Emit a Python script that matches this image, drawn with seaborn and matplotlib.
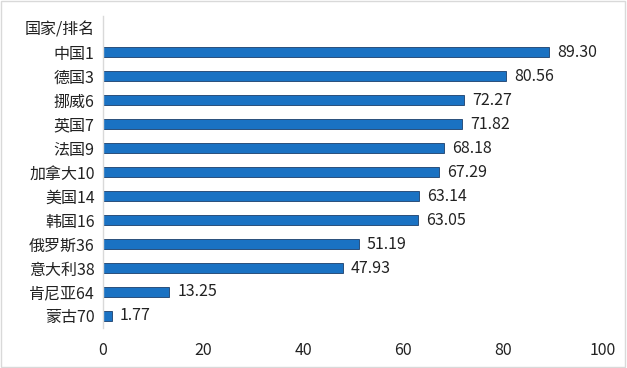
import pandas as pd
import seaborn as sns
import matplotlib.pyplot as plt
from matplotlib.patches import Rectangle

# data
header = "国家/排名"
countries = ["中国1", "德国3", "挪威6", "英国7", "法国9", "加拿大10",
             "美国14", "韩国16", "俄罗斯36", "意大利38", "肯尼亚64", "蒙古70"]
scores = [89.30, 80.56, 72.27, 71.82, 68.18, 67.29,
          63.14, 63.05, 51.19, 47.93, 13.25, 1.77]

df = pd.DataFrame({"country": countries, "score": scores})

sns.set_theme(style="white")
plt.rcParams['font.family'] = ['Noto Sans CJK SC', 'DejaVu Sans']

fig = plt.figure(figsize=(6.27, 3.68), dpi=100)
ax = fig.add_axes([0.1643, 0.1087, 0.7974, 0.8478])

sns.barplot(data=df, y="country", x="score", order=[header] + countries,
            orient="h", color="#1a72c3", saturation=1, width=0.44,
            edgecolor="#1b3f6b", linewidth=0.6, ax=ax)

# value labels at the bar ends
for i, v in enumerate(scores):
    ax.text(v + 1.6, i + 1, f"{v:.2f}", va="center", ha="left",
            fontsize=11.5, color="#222222")

ax.set_xlim(0, 100)
ax.set_ylim(12.5, -0.5)
ax.set_xticks([0, 20, 40, 60, 80, 100])
ax.set_xlabel("")
ax.set_ylabel("")
ax.tick_params(axis="x", labelsize=11.5, colors="#222222", length=0, pad=10)
ax.tick_params(axis="y", labelsize=11.5, colors="#222222", length=0, pad=6)

for side in ["top", "right", "bottom"]:
    ax.spines[side].set_visible(False)
ax.spines["left"].set_color("#d9d9d9")
ax.spines["left"].set_linewidth(1)

# light frame round the whole chart
fig.patches.append(Rectangle((0.002, 0.003), 0.995, 0.994, transform=fig.transFigure,
                             fill=False, edgecolor="#d9d9d9", linewidth=1))

fig.savefig("out.png", dpi=100)
